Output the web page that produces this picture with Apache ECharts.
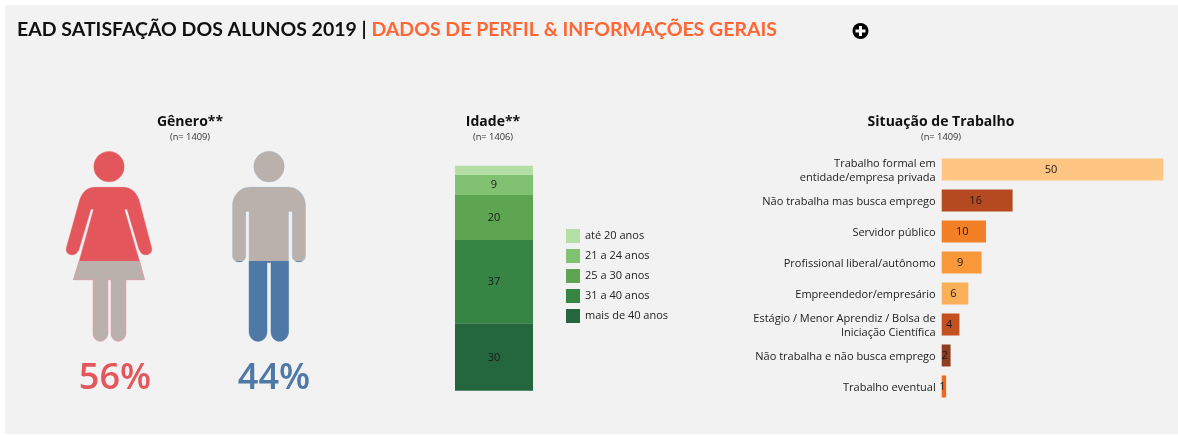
<!DOCTYPE html>
<html>
<head>
<meta charset="utf-8">
<style>html,body{margin:0;padding:0;background:#fff}#c{width:1178px;height:435px}</style>
<script src="https://cdn.jsdelivr.net/npm/echarts@6/dist/echarts.min.js"></script>
</head>
<body>
<div id="c"></div>
<script>
const genderNames = ['Feminino', 'Masculino'];
const genderPct = [56, 44];
const ageNames = ['até 20 anos', '21 a 24 anos', '25 a 30 anos', '31 a 40 anos', 'mais de 40 anos'];
const ageValues = [4, 9, 20, 37, 30];
const ageColors = ['#B3DFA5', '#80C272', '#5EA552', '#378545', '#24663D'];
const workNames = ['Trabalho formal em\nentidade/empresa privada', 'Não trabalha mas busca emprego', 'Servidor público', 'Profissional liberal/autônomo', 'Empreendedor/empresário', 'Estágio / Menor Aprendiz / Bolsa de\nIniciação Científica', 'Não trabalha e não busca emprego', 'Trabalho eventual'];
const workValues = [50, 16, 10, 9, 6, 4, 2, 1];
const workColors = ['#FFC583', '#B5491F', '#F37F27', '#F89838', '#F9B058', '#C4501F', '#8F3C20', '#EE6A1E'];

const FONT = '"Open Sans", "Noto Sans", sans-serif';
const womanPath = 'path://M161 204A46 46 0 1 1 253 204A46 46 0 1 1 161 204ZM165 265L250 265C272 265 290 280 298 305L335 445C340 462 325 470 315 468C306 467 300 460 296 450L261 332L254 332L298 483L314 542L258 542L258 700C258 716 246 726 235 726C222 726 213 716 213 700L213 542L204 542L204 700C204 716 192 726 181 726C168 726 159 716 159 700L159 542L100 542L118 483L160 332L153 332L118 450C114 460 108 467 99 468C89 470 74 462 79 445L118 305C126 280 142 265 165 265Z';
const manPath = 'path://M641 204A46 46 0 1 1 733 204A46 46 0 1 1 641 204ZM630 265L745 265C775 265 797 290 797 320L797 470C797 482 788 488 777 488C766 488 757 482 757 470L757 338L746 338L746 695C746 714 732 725 719 725C705 725 693 714 693 695L693 490L681 490L681 695C681 714 668 725 654 725C640 725 627 714 627 695L627 338L617 338L617 470C617 482 608 488 597 488C586 488 577 482 577 470L577 320C577 290 600 265 630 265Z';

const RED = '#E3565B', BLUE = '#4E79A7', GREY = '#BAB0AC';
function figure(idx, path, size, base, clipColor, clipValue, border) {
  const common = {
    type: 'pictorialBar', xAxisIndex: idx, yAxisIndex: idx, symbol: path, symbolSize: size,
    symbolPosition: 'start', symbolOffset: [0, -6], barGap: '-100%', silent: true, animation: false
  };
  return [
    Object.assign({}, common, { name: 'base' + idx, z: 2, data: [100], itemStyle: { color: base, borderColor: border, borderWidth: 1 } }),
    Object.assign({}, common, { name: 'clip' + idx, z: 3, symbolClip: true, data: [clipValue], itemStyle: { color: clipColor, borderColor: clipColor === BLUE ? BLUE : border, borderWidth: 1 } })
  ];
}

const grids = [
  { left: 59, top: 150, width: 100, height: 198 },
  { left: 219, top: 150, width: 100, height: 198 },
  { left: 455, top: 165.7, width: 78, height: 225 },
  { left: 941.7, top: 154, width: 221.6, height: 248 },
  { left: 941.7, top: 155.3, width: 221.6, height: 248 }
];
const hidden = { show: false };
const series = [
  ...figure(0, womanPath, [86, 190], RED, GREY, 100 - genderPct[0], '#EFA3B4'),
  ...figure(1, manPath, [73, 190], GREY, BLUE, genderPct[1], '#8FB4DC'),
  ...ageNames.map((n, i) => i).reverse().map(i => ({
    type: 'bar', name: ageNames[i], stack: 'age', xAxisIndex: 2, yAxisIndex: 2, barWidth: '100%', animation: false,
    data: [ageValues[i]],
    itemStyle: { color: ageColors[i] },
    label: { show: i > 0, position: 'inside', offset: [0, 0.5], color: '#1a1a1a', fontSize: 11, fontFamily: FONT }
  })),
  {
    type: 'bar', xAxisIndex: 3, yAxisIndex: 3, barWidth: 22, animation: false,
    data: workValues.map((v, i) => ({ value: v, itemStyle: { color: workColors[i] } })),
    label: { show: true, position: 'inside', offset: [-1.5, 0.5], color: '#1a1a1a', fontSize: 11, fontFamily: FONT }
  }
];

const heading = (text, x, y) => ({ text, left: x, top: y, textAlign: 'center', padding: 0, textStyle: { fontFamily: FONT, fontSize: 14, fontWeight: 700, color: '#111' } });
const sub = (text, x, y) => ({ text, left: x, top: y, textAlign: 'center', padding: 0, textStyle: { fontFamily: FONT, fontSize: 9.3, fontWeight: 400, color: '#333' } });
const pct = (text, x, color) => ({ text, left: x, top: 361, textAlign: 'center', padding: 0, textStyle: { fontFamily: FONT, fontSize: 36, fontWeight: 600, color } });

const option = {
  animation: false,
  backgroundColor: '#ffffff',
  title: [
    {
      left: 17, top: 20, padding: 0,
      text: '{a|EAD SATISFAÇÃO DOS ALUNOS 2019 | }{b|DADOS DE PERFIL & INFORMAÇÕES GERAIS}',
      textStyle: { rich: {
        a: { fontFamily: 'Lato', fontSize: 19.5, fontWeight: 700, color: '#111' },
        b: { fontFamily: 'Lato', fontSize: 19.5, fontWeight: 700, color: '#FF6633' }
      } }
    },
    heading('Gênero**', 190, 115), sub('(n= 1409)', 190, 133),
    heading('Idade**', 493, 115), sub('(n= 1406)', 493, 133),
    heading('Situação de Trabalho', 941, 115), sub('(n= 1409)', 941, 133),
    pct(genderPct[0] + '%', 115, RED), pct(genderPct[1] + '%', 274, BLUE)
  ],
  legend: {
    left: 566, top: 229, orient: 'vertical', itemWidth: 14, itemHeight: 14, itemGap: 6, padding: 0,
    icon: 'rect', selectedMode: false, data: ageNames,
    textStyle: { fontFamily: FONT, fontSize: 11, color: '#222' }
  },
  grid: grids,
  xAxis: [
    { gridIndex: 0, type: 'category', data: [genderNames[0]], show: false },
    { gridIndex: 1, type: 'category', data: [genderNames[1]], show: false },
    { gridIndex: 2, type: 'category', data: ['Idade'], show: false },
    { gridIndex: 3, type: 'value', min: 0, max: 50, show: false },
    { gridIndex: 4, type: 'value', min: 0, max: 50, show: false }
  ],
  yAxis: [
    { gridIndex: 0, type: 'value', min: 0, max: 100, show: false },
    { gridIndex: 1, type: 'value', min: 0, max: 100, show: false },
    { gridIndex: 2, type: 'value', min: 0, max: 100, show: false },
    { gridIndex: 3, type: 'category', inverse: true, data: workNames, show: false },
    {
      gridIndex: 4, type: 'category', inverse: true, data: workNames,
      axisLine: hidden, axisTick: hidden,
      axisLabel: { margin: 6, fontFamily: FONT, fontSize: 11, color: '#222', lineHeight: 14, align: 'right', interval: 0 }
    }
  ],
  series,
  graphic: [
    { type: 'rect', z: -10, silent: true, shape: { x: 5, y: 5, width: 1173, height: 429 }, style: { fill: '#F2F2F2' } },
    { type: 'circle', silent: true, shape: { cx: 860.5, cy: 31, r: 8 }, style: { fill: '#000' } },
    { type: 'rect', silent: true, shape: { x: 855.5, y: 29.5, width: 10, height: 3 }, style: { fill: '#fff' } },
    { type: 'rect', silent: true, shape: { x: 859, y: 26, width: 3, height: 10 }, style: { fill: '#fff' } }
  ]
};
const chart = echarts.init(document.getElementById('c'), null, { renderer: 'canvas' });
chart.setOption(option);
</script>
</body>
</html>
